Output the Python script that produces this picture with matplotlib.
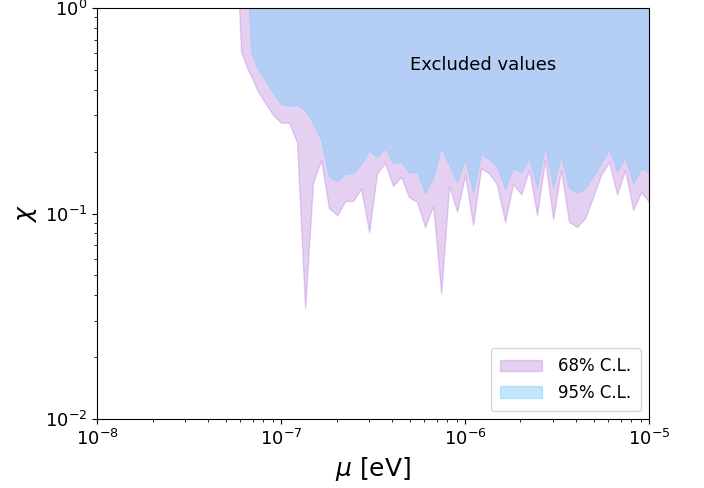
import numpy as np
import matplotlib
matplotlib.use('Agg')
import matplotlib.pyplot as plt

# mass grid [eV]
mu = [5.91e-8, 6.06e-8, 6.70e-8, 6.87e-8, 7.41e-8, 8.19e-8, 9.05e-8,
      1.00e-7, 1.105e-7, 1.22e-7, 1.35e-7, 1.49e-7, 1.65e-7, 1.82e-7, 2.02e-7,
      2.23e-7, 2.46e-7, 2.72e-7, 3.01e-7, 3.32e-7, 3.67e-7, 4.06e-7, 4.49e-7,
      4.96e-7, 5.48e-7, 6.06e-7, 6.70e-7, 7.41e-7, 8.19e-7, 9.05e-7,
      1.00e-6, 1.105e-6, 1.22e-6, 1.35e-6, 1.49e-6, 1.65e-6, 1.82e-6, 2.02e-6,
      2.23e-6, 2.46e-6, 2.72e-6, 3.01e-6, 3.32e-6, 3.67e-6, 4.06e-6, 4.49e-6,
      4.96e-6, 5.48e-6, 6.06e-6, 6.70e-6, 7.41e-6, 8.19e-6, 9.05e-6, 1.00e-5]

# lower limits on chi
chi_68 = [1.0, 0.611, 0.483, 0.467, 0.399, 0.345, 0.301,
          0.276, 0.276, 0.223, 0.0347, 0.141, 0.182, 0.106, 0.0983,
          0.115, 0.115, 0.132, 0.0813, 0.157, 0.176, 0.136, 0.151,
          0.120, 0.114, 0.0860, 0.109, 0.0410, 0.136, 0.102,
          0.154, 0.0879, 0.166, 0.157, 0.138, 0.0909, 0.139, 0.124,
          0.163, 0.0983, 0.182, 0.0940, 0.163, 0.0909, 0.0860, 0.0951,
          0.120, 0.154, 0.178, 0.124, 0.163, 0.104, 0.127, 0.114]

chi_95 = [1.0, 1.0, 1.0, 0.611, 0.516, 0.446, 0.386,
          0.341, 0.334, 0.337, 0.319, 0.276, 0.228, 0.151, 0.144,
          0.157, 0.157, 0.174, 0.204, 0.188, 0.208, 0.176, 0.178,
          0.159, 0.159, 0.126, 0.149, 0.211, 0.172, 0.142,
          0.186, 0.127, 0.195, 0.184, 0.170, 0.132, 0.166, 0.159,
          0.186, 0.135, 0.216, 0.135, 0.193, 0.133, 0.126, 0.133,
          0.152, 0.176, 0.206, 0.161, 0.188, 0.141, 0.166, 0.159]

fig = plt.figure(figsize=(7.04, 4.88), dpi=100)
ax = fig.add_axes([0.138, 0.141, 0.784, 0.843])

ax.fill_between(mu, chi_68, 1, color='#ac66d7', alpha=0.3, label='68% C.L.')
ax.fill_between(mu, chi_95, 1, color='lightskyblue', alpha=0.5, label='95% C.L.')

ax.text(5e-7, 0.5, 'Excluded values', fontsize=13)

ax.set_xscale('log')
ax.set_yscale('log')
ax.set_xlim(1e-8, 1e-5)
ax.set_ylim(1e-2, 1)
ax.set_xlabel(r'$\mu$ [eV]', fontsize=18)
ax.set_ylabel(r'$\chi$', fontsize=18)
ax.tick_params(labelsize=13)
ax.legend(loc='lower right', fontsize=12, handlelength=2.5,
          handletextpad=1.0, borderpad=0.55)

fig.savefig('out.png', dpi=100)
